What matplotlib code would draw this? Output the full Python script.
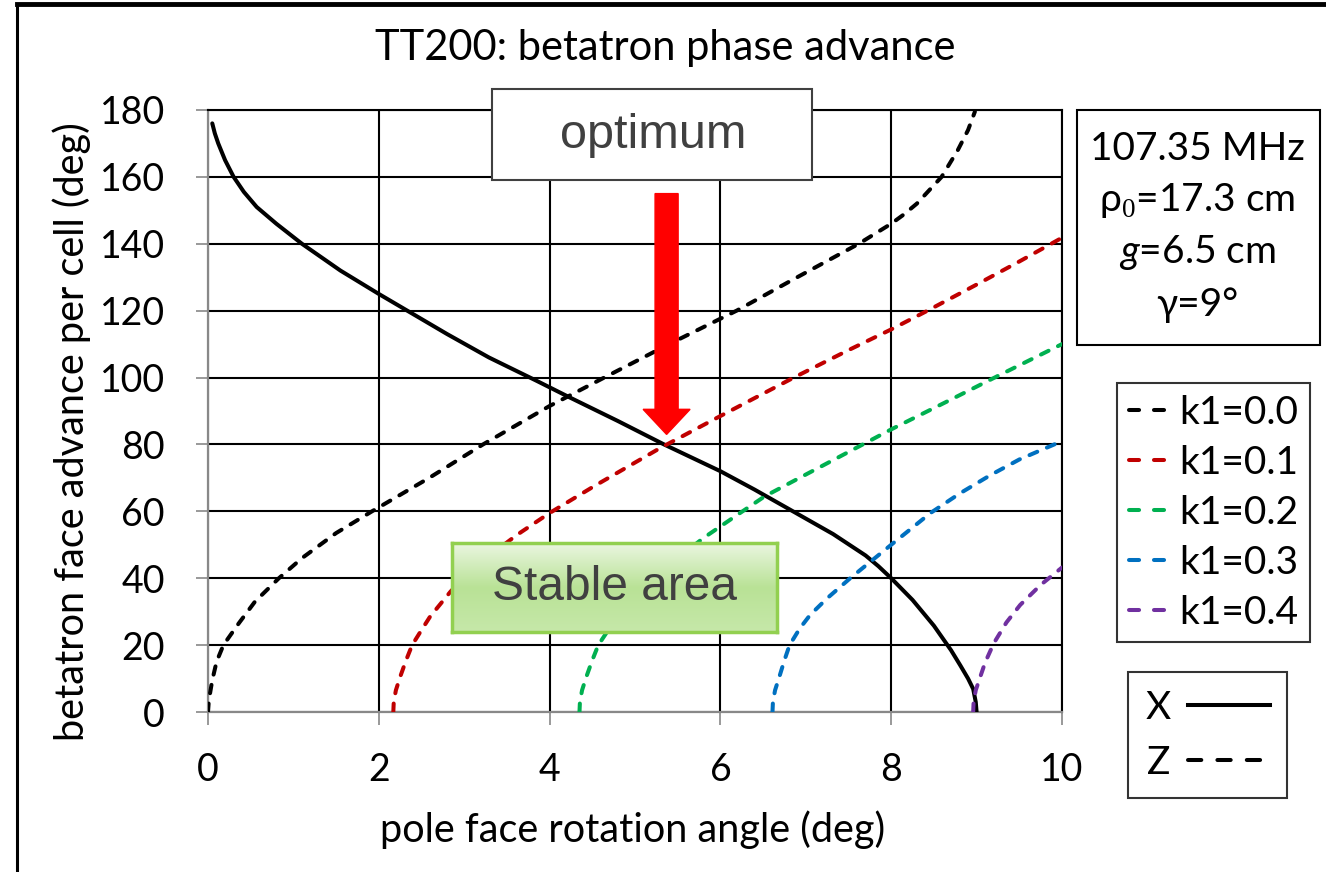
import numpy as np
import matplotlib
matplotlib.use("Agg")
import matplotlib.pyplot as plt
from matplotlib.patches import Rectangle, FancyArrow
from matplotlib.lines import Line2D
from matplotlib.colors import LinearSegmentedColormap

plt.rcParams['font.family'] = ['Lato', 'DejaVu Sans']
plt.rcParams['mathtext.fontset'] = 'custom'
plt.rcParams['mathtext.rm'] = 'Liberation Serif'
plt.rcParams['mathtext.it'] = 'Lato:italic'

# -----------------------------------------
# data
# -----------------------------------------
# X plane (solid)
x_X = [0.05, 0.08, 0.12, 0.20, 0.30, 0.42, 0.57, 0.80, 1.10, 1.55, 2.00,
       2.32, 2.80, 3.29, 3.85, 4.24, 4.80, 5.34, 6.00, 6.40, 6.85, 7.32,
       7.70, 7.85, 8.00, 8.25, 8.50, 8.70, 8.81, 8.90, 8.96, 8.99, 9.00]
y_X = [176, 173, 170, 165, 160, 155.5, 151, 146, 140, 132, 125,
       120.2, 113, 106, 99, 94, 87, 80, 72, 66.5, 60, 53.2,
       46.8, 43.6, 40, 33.5, 25.8, 18.5, 13.9, 10.0, 6.9, 3, 0]

# Z plane (dashed), one curve per k1
k1_labels = ["k1=0.0", "k1=0.1", "k1=0.2", "k1=0.3", "k1=0.4"]
k1_colors = ["#000000", "#C00000", "#00B050", "#0070C0", "#7030A0"]

x_k0 = [0.00, 0.01, 0.05, 0.10, 0.18, 0.36, 0.55, 0.83, 1.10, 1.50, 1.92,
        2.59, 3.22, 4.00, 4.64, 5.40, 6.19, 6.90, 7.62, 8.00, 8.15, 8.30,
        8.59, 8.78, 8.90, 8.98]
y_k0 = [0, 3.5, 9.5, 15, 20, 26.5, 33, 40, 46, 53.5, 60,
        70, 80, 91.5, 100, 110, 120, 130, 140, 146, 148.8, 152,
        160, 168, 174, 179.5]

x_k1 = [2.17, 2.175, 2.20, 2.25, 2.32, 2.39, 2.50, 2.60, 2.84, 3.10, 3.62,
        4.00, 4.52, 5.30, 6.00, 6.86, 7.50, 8.00, 8.41, 9.00, 9.50, 10.0]
y_k1 = [0, 3, 6.5, 10.5, 15.5, 20, 24.5, 28.5, 36, 43, 53,
        59.5, 67.5, 79, 88.5, 100, 108.2, 114.4, 119.8, 127.8, 134.7, 141.8]

x_k2 = [4.35, 4.355, 4.38, 4.43, 4.50, 4.57, 4.70, 4.85, 5.05, 5.30, 5.80,
        6.23, 6.52, 7.00, 7.63, 8.00, 8.69, 9.25, 10.0]
y_k2 = [0, 3, 6.5, 10.5, 15.5, 20, 25, 30, 36, 42, 52,
        59.5, 64.5, 71, 79.5, 84.5, 93.3, 100.5, 110]

x_k3 = [6.61, 6.615, 6.64, 6.69, 6.75, 6.81, 6.93, 7.05, 7.25, 7.52, 8.00,
        8.46, 8.80, 9.16, 9.50, 10.0]
y_k3 = [0, 3, 6.5, 10.5, 15.5, 20, 25, 29, 34, 40, 50,
        59.5, 65.3, 70.8, 75.5, 81]

x_k4 = [8.96, 8.965, 8.99, 9.04, 9.10, 9.20, 9.35, 9.51, 9.75, 10.0]
y_k4 = [0, 3, 6.5, 10.3, 14.8, 20.5, 26.8, 32, 38, 43.2]

z_x = [x_k0, x_k1, x_k2, x_k3, x_k4]
z_y = [y_k0, y_k1, y_k2, y_k3, y_k4]

x_ticks = [0, 2, 4, 6, 8, 10]
y_ticks = [0, 20, 40, 60, 80, 100, 120, 140, 160, 180]

info_lines = ["107.35 MHz", r"ρ$_\mathrm{0}$=17.3 cm", r"$g$=6.5 cm", "γ=9°"]

W, H = 1326, 872
fig = plt.figure(figsize=(W / 100, H / 100), dpi=100)


# pixel -> figure fraction helpers
def fx(px):
    return px / W


def fy(py):
    return 1 - py / H


ax = fig.add_axes([fx(208), fy(712), fx(1062) - fx(208), fy(110) - fy(712)])
ax.set_xlim(0, 10)
ax.set_ylim(0, 180)
ax.set_xticks(x_ticks)
ax.set_yticks(y_ticks)
ax.grid(True, color="black", lw=1.5)
ax.set_axisbelow(True)
for side in ["top", "right"]:
    ax.spines[side].set_color("black")
    ax.spines[side].set_linewidth(1.5)
for side in ["left", "bottom"]:
    ax.spines[side].set_color("#888888")
    ax.spines[side].set_linewidth(1.6)
ax.tick_params(direction="out", length=9, width=1.2, color="#888888",
               labelsize=27)
ax.tick_params(axis="x", pad=20)
ax.tick_params(axis="y", pad=22)

lw = 2.9
ax.plot(x_X, y_X, color="black", lw=lw, solid_capstyle="round", zorder=3)
z_lines = []
for xs, ys, c, lab in zip(z_x, z_y, k1_colors, k1_labels):
    ln, = ax.plot(xs, ys, color=c, lw=lw, dashes=(2.1, 2.6),
                  dash_capstyle="round", label=lab, zorder=3)
    z_lines.append(ln)

fig.text(fx(633), fy(830), "pole face rotation angle (deg)", fontsize=28.5,
         ha="center", va="center")
fig.text(fx(72), fy(432), "betatron face advance per cell (deg)", fontsize=28.5,
         ha="center", va="center", rotation=90)
fig.text(fx(665), fy(48), "TT200: betatron phase advance", fontsize=30,
         ha="center", va="center")

# red arrow to the optimum
ax.add_patch(FancyArrow(5.37, 155, 0, -72, width=0.27, head_width=0.55,
                        head_length=7.5, length_includes_head=True,
                        color="#FF0000", zorder=5))

# "optimum" box
fig.patches.append(Rectangle((fx(492), fy(180)), fx(812) - fx(492), fy(89) - fy(180),
                             transform=fig.transFigure, facecolor="white",
                             edgecolor="#404040", lw=1.5, zorder=6))
fig.text(fx(653), fy(136), "optimum", fontsize=35, color="#404040",
         family="Liberation Sans", ha="center", va="center", zorder=7)

# "Stable area" box with a green gradient
sax = fig.add_axes([fx(452), fy(632), fx(777) - fx(452), fy(543) - fy(632)])
grad = np.linspace(0, 1, 100).reshape(-1, 1)
gcmap = LinearSegmentedColormap.from_list("g", ["#EAF6E0", "#B9E296", "#C6E8A9"])
sax.imshow(grad, aspect="auto", cmap=gcmap, extent=[0, 1, 0, 1])
sax.set_xticks([])
sax.set_yticks([])
for s in sax.spines.values():
    s.set_color("#92D050")
    s.set_linewidth(2.5)
sax.text(0.5, 0.5, "Stable area", fontsize=34.5, color="#404040",
         family="Liberation Sans", ha="center", va="center", transform=sax.transAxes)

# info box
fig.patches.append(Rectangle((fx(1077), fy(345)), fx(1320) - fx(1077), fy(110) - fy(345),
                             transform=fig.transFigure, facecolor="white",
                             edgecolor="black", lw=1.5))
for i, t in enumerate(info_lines):
    fig.text(fx(1197), fy(149 + 52 * i), t, fontsize=28, ha="center", va="center")

# k1 legend
leg1 = fig.legend(handles=z_lines, loc="upper left",
                  bbox_to_anchor=(fx(1117), fy(383)), fontsize=28,
                  frameon=True, fancybox=False, edgecolor="black",
                  handlelength=1.2, handletextpad=0.1, labelspacing=0.36,
                  borderpad=0.3, borderaxespad=0)
leg1.get_frame().set_linewidth(1.5)
for h in leg1.legend_handles:
    h.set_dashes((2.5, 3.7))
    h.set_dash_capstyle("round")

# X / Z legend
xz_handles = [Line2D([], [], color="black", lw=lw),
              Line2D([], [], color="black", lw=lw, dashes=(3.3, 4.0),
                     dash_capstyle="round")]
leg2 = fig.legend(handles=xz_handles, labels=["X", "Z"], loc="upper left",
                  bbox_to_anchor=(fx(1128), fy(672)), fontsize=28,
                  markerfirst=False, frameon=True, fancybox=False,
                  edgecolor="black", handlelength=2.1, handletextpad=0.45,
                  labelspacing=0.5, borderpad=0.45, borderaxespad=0)
leg2.get_frame().set_linewidth(1.5)

# outer frame of the original picture
fig.add_artist(Line2D([fx(17), fx(17)], [fy(4), 0], color="black", lw=2.2,
                      transform=fig.transFigure))
fig.add_artist(Line2D([fx(17), 1], [fy(4), fy(4)], color="black", lw=3.5,
                      transform=fig.transFigure))

fig.savefig("out.png", dpi=100)
